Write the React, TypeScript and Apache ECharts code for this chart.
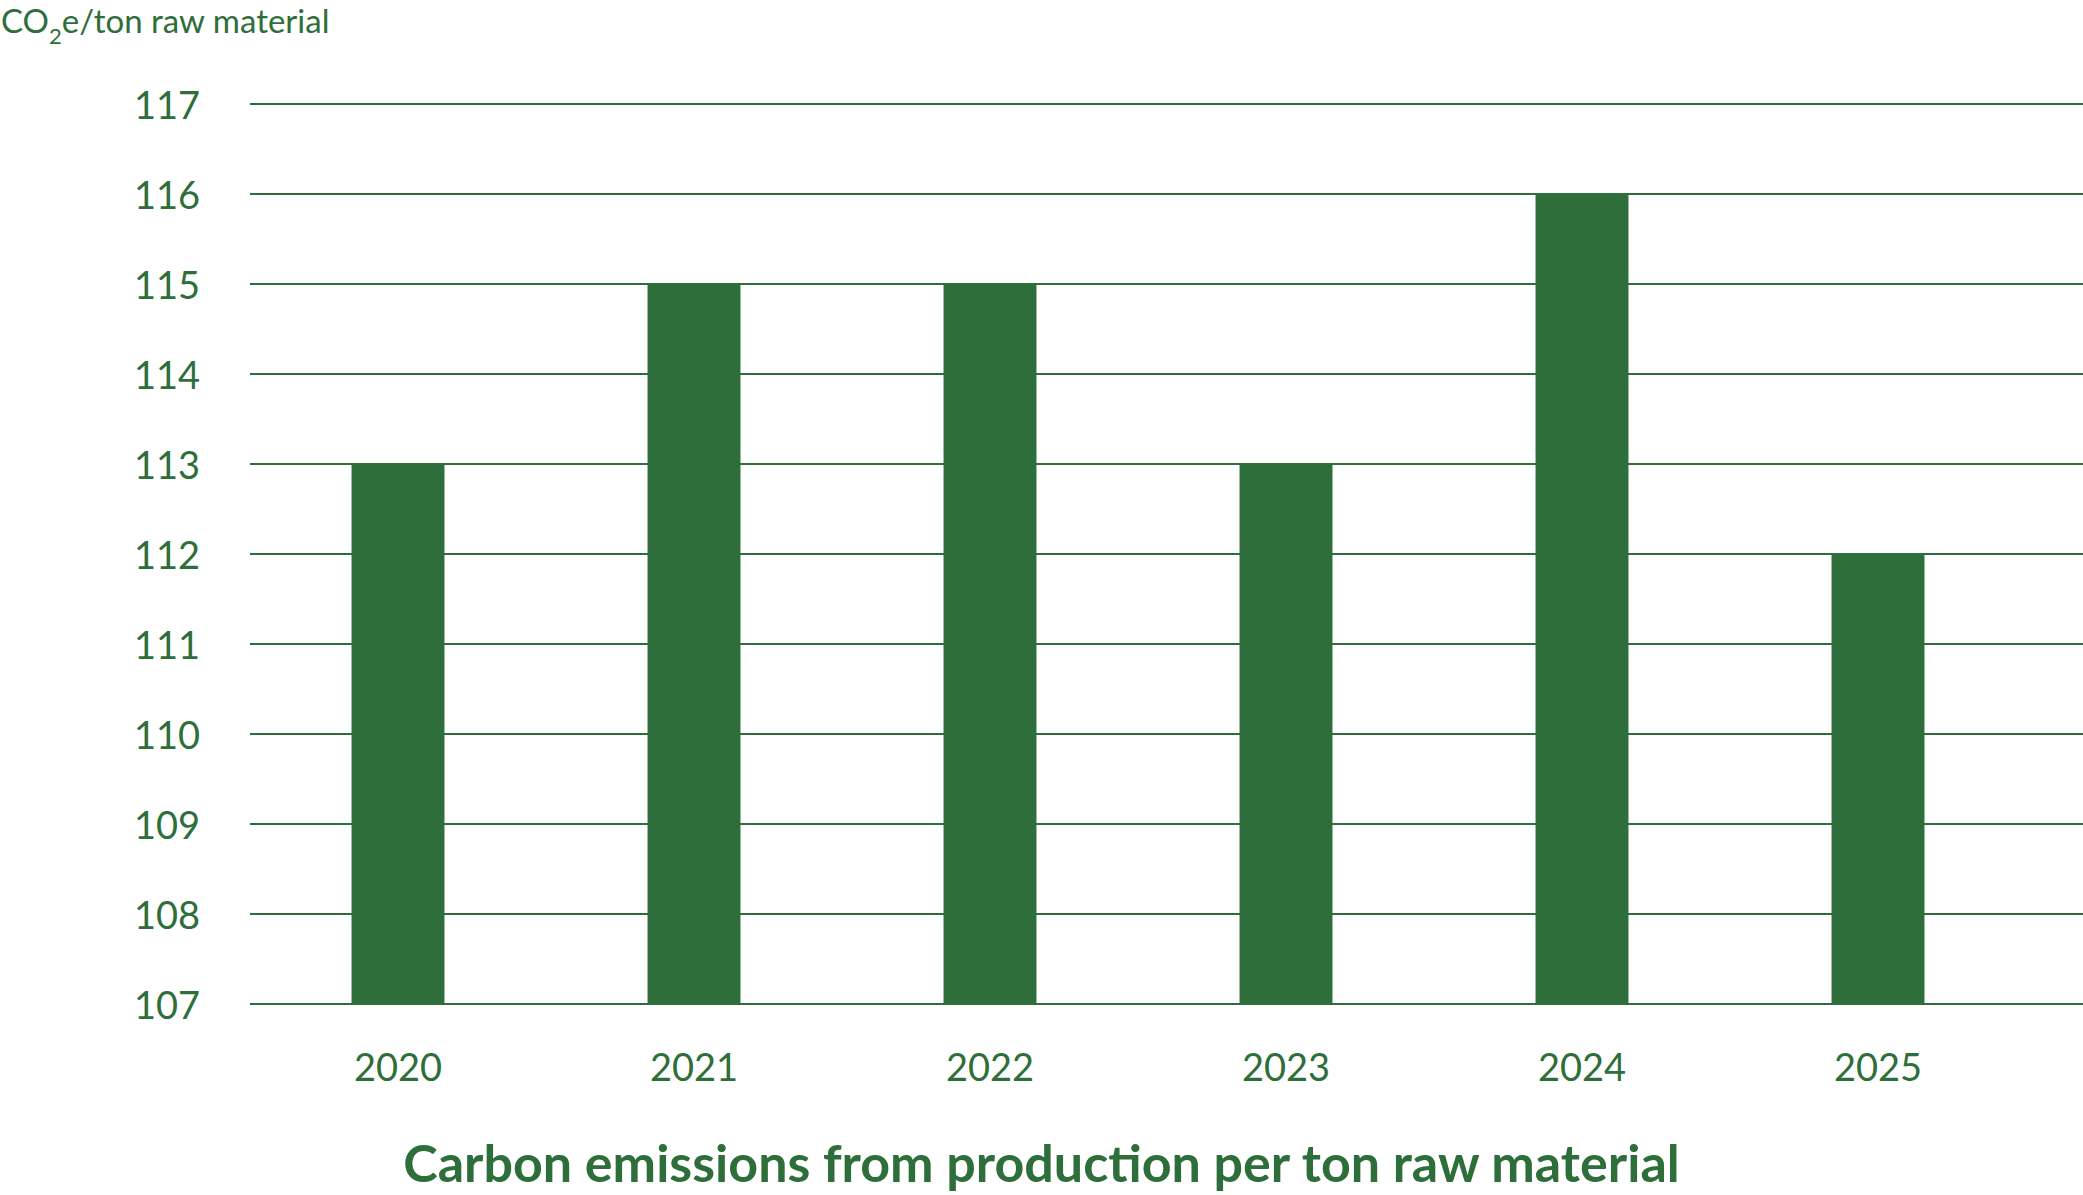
import React, { useEffect, useRef } from "react";
import * as echarts from "echarts";

const categories = ["2020", "2021", "2022", "2023", "2024", "2025"];
const values = [113, 115, 115, 113, 116, 112];
const yMin = 107;
const yMax = 117;
const yStep = 1;
const yAxisTitleParts = ["CO", "2", "e/ton raw material"];
const chartTitle = "Carbon emissions from production per ton raw material";

const GREEN = "#2e6e3a";
const FONT = "Lato";

function measure(text: string, font: string): number {
  const c = document.createElement("canvas").getContext("2d");
  if (!c) return text.length * 15;
  c.font = font;
  return c.measureText(text).width;
}

export default function App() {
  const ref = useRef<HTMLDivElement>(null);
  useEffect(() => {
    document.body.style.margin = "0";
    if (!ref.current) return;
    const chart = echarts.init(ref.current, undefined, { renderer: "svg" });
    const mainSize = 33;
    const subSize = 22;
    const wCO = measure(yAxisTitleParts[0], `${mainSize}px ${FONT}`);
    const w2 = measure(yAxisTitleParts[1], `${subSize}px ${FONT}`);
    chart.setOption({
      animation: false,
      backgroundColor: "#ffffff",
      grid: [
        { left: 250, right: 57, top: 104, bottom: 191, containLabel: false },
        { left: 250, right: 0, top: 104, bottom: 191, containLabel: false },
      ],
      xAxis: [
        {
          type: "category",
          gridIndex: 0,
          data: categories,
          axisLine: { show: false },
          axisTick: { show: false },
          axisLabel: { color: GREEN, fontFamily: FONT, fontSize: 38, margin: 43 },
        },
        { type: "value", gridIndex: 1, show: false, min: 0, max: 1 },
      ],
      yAxis: [
        {
          type: "value",
          gridIndex: 0,
          min: yMin,
          max: yMax,
          interval: yStep,
          axisLine: { show: false },
          axisTick: { show: false },
          axisLabel: { color: GREEN, fontFamily: FONT, fontSize: 38, margin: 50 },
          splitLine: { show: false },
        },
        {
          type: "value",
          gridIndex: 1,
          min: yMin,
          max: yMax,
          interval: yStep,
          axisLine: { show: false },
          axisTick: { show: false },
          axisLabel: { show: false },
          splitLine: { lineStyle: { color: GREEN, width: 2 } },
        },
      ],
      series: [
        {
          type: "bar",
          xAxisIndex: 0,
          yAxisIndex: 0,
          data: values,
          barWidth: "31.4%",
          itemStyle: { color: GREEN },
          z: 3,
        },
      ],
      graphic: [
        {
          type: "text",
          x: 1,
          y: 20,
          style: {
            text: yAxisTitleParts[0],
            fontFamily: FONT,
            fontSize: mainSize,
            fill: GREEN,
            verticalAlign: "middle",
          },
        },
        {
          type: "text",
          x: 1 + wCO,
          y: 35,
          style: {
            text: yAxisTitleParts[1],
            fontFamily: FONT,
            fontSize: subSize,
            fill: GREEN,
            verticalAlign: "middle",
          },
        },
        {
          type: "text",
          x: 1 + wCO + w2,
          y: 20,
          style: {
            text: yAxisTitleParts[2],
            fontFamily: FONT,
            fontSize: mainSize,
            fill: GREEN,
            verticalAlign: "middle",
          },
        },
        {
          type: "text",
          x: 1041.5,
          y: 1162,
          style: {
            text: chartTitle,
            fontFamily: FONT,
            fontWeight: "bold",
            fontSize: 52,
            fill: GREEN,
            align: "center",
            verticalAlign: "middle",
          },
        },
      ],
    });
    return () => chart.dispose();
  }, []);
  return <div ref={ref} style={{ width: 2083, height: 1195 }} />;
}
